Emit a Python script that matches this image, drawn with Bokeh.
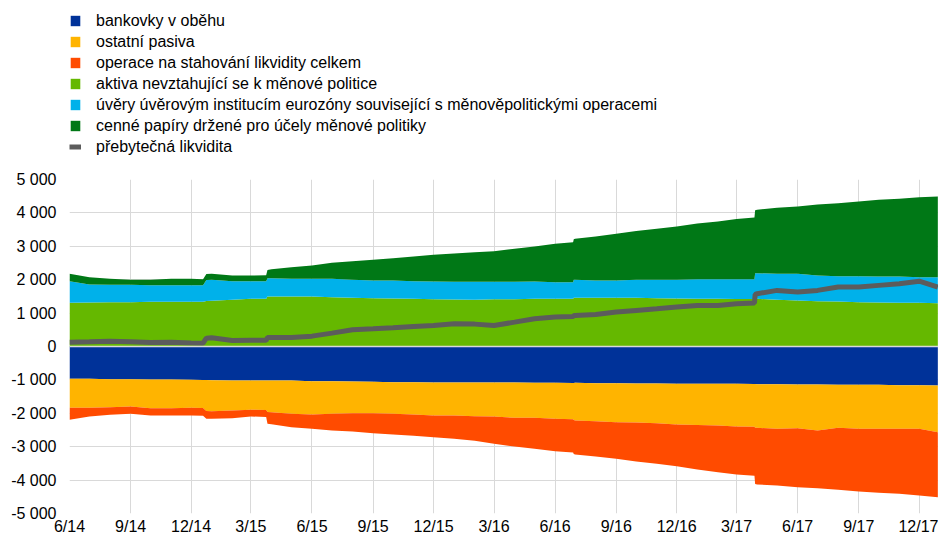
import numpy as np
import pandas as pd
from bokeh.plotting import figure
from bokeh.layouts import column
from bokeh.models import (ColumnDataSource, FixedTicker, CustomJSTickFormatter,
                          Legend, LegendItem, Span, Range1d)
from bokeh.embed import file_html
from bokeh.resources import INLINE

# Observation dates (EUR bn)
dates = [
    "2014-06-01", "2014-07-01", "2014-08-01", "2014-09-01", "2014-10-01", "2014-11-01",
    "2014-12-01", "2014-12-19", "2014-12-24", "2015-01-01", "2015-02-01", "2015-03-01",
    "2015-03-24", "2015-03-26", "2015-04-01", "2015-05-01", "2015-06-01", "2015-07-01",
    "2015-08-01", "2015-09-01", "2015-10-01", "2015-11-01", "2015-12-01", "2016-01-01",
    "2016-02-01", "2016-03-01", "2016-04-01", "2016-05-01", "2016-06-01", "2016-06-28",
    "2016-06-29", "2016-07-01", "2016-08-01", "2016-09-01", "2016-10-01", "2016-11-01",
    "2016-12-01", "2017-01-01", "2017-02-01", "2017-03-01", "2017-03-28", "2017-03-29",
    "2017-04-01", "2017-05-01", "2017-06-01", "2017-07-01", "2017-08-01", "2017-09-01",
    "2017-10-01", "2017-11-01", "2017-12-01", "2017-12-29",
]

# Liabilities (negative side)
bankovky = [
    -967, -967, -978, -978, -988, -988, -998, -1000, -1005, -1008, -1018, -1018,
    -1018, -1018, -1018, -1018, -1038, -1038, -1048, -1058, -1068, -1068, -1078, -1078,
    -1078, -1078, -1078, -1088, -1088, -1090, -1090, -1088, -1098, -1098, -1108, -1108,
    -1118, -1118, -1118, -1118, -1120, -1125, -1128, -1128, -1138, -1138, -1148, -1148,
    -1148, -1158, -1158, -1168,
]
ostatni_pasiva = [
    -868, -868, -838, -818, -858, -858, -838, -840, -925, -928, -898, -878,
    -882, -942, -948, -998, -998, -978, -948, -938, -948, -968, -988, -988,
    -1008, -1018, -1058, -1048, -1078, -1090, -1110, -1128, -1138, -1168, -1167, -1188,
    -1217, -1232, -1247, -1277, -1280, -1305, -1307, -1337, -1307, -1377, -1287, -1317,
    -1317, -1307, -1307, -1397,
]
operace_stahovani = [
    -360, -261, -230, -220, -220, -220, -230, -230, -230, -230, -230, -200,
    -210, -350, -364, -399, -429, -499, -549, -599, -619, -639, -649, -699,
    -738, -818, -858, -928, -968, -990, -1020, -1018, -1057, -1097, -1168, -1217,
    -1248, -1330, -1398, -1437, -1470, -1690, -1697, -1697, -1767, -1727, -1856, -1876,
    -1916, -1946, -1996, -1946,
]

# Assets (positive side)
aktiva_nemenova = [
    1308, 1317, 1327, 1327, 1337, 1337, 1337, 1340, 1360, 1367, 1397, 1427,
    1430, 1500, 1500, 1497, 1497, 1477, 1457, 1447, 1437, 1427, 1417, 1407,
    1397, 1417, 1417, 1427, 1427, 1430, 1457, 1457, 1457, 1457, 1457, 1447,
    1437, 1427, 1427, 1420, 1420, 1430, 1427, 1397, 1377, 1357, 1347, 1327,
    1317, 1307, 1307, 1297,
]
uvery = [
    647, 539, 519, 519, 499, 499, 499, 496, 630, 629, 559, 529,
    520, 540, 546, 529, 529, 549, 539, 529, 539, 529, 529, 529,
    539, 519, 519, 519, 499, 490, 539, 539, 519, 519, 539, 549,
    559, 589, 589, 596, 596, 766, 769, 779, 799, 769, 759, 779,
    779, 789, 769, 779,
]
cenne_papiry = [
    222, 219, 180, 149, 159, 190, 190, 174, 180, 181, 170, 170,
    180, 250, 264, 349, 399, 479, 559, 619, 669, 739, 799, 849,
    889, 919, 989, 1049, 1149, 1200, 1214, 1229, 1319, 1399, 1459, 1529,
    1599, 1669, 1729, 1799, 1844, 1884, 1899, 1979, 2019, 2124, 2184, 2234,
    2294, 2324, 2394, 2414,
]

# Excess liquidity
prebytecna = [
    130, 140, 160, 141, 120, 130, 102, 100, 250, 260, 180, 190,
    185, 270, 270, 270, 310, 400, 500, 530, 560, 600, 630, 680,
    670, 630, 730, 830, 880, 900, 920, 930, 960, 1030, 1080, 1130,
    1180, 1230, 1230, 1280, 1300, 1560, 1580, 1680, 1630, 1680, 1780, 1780,
    1830, 1880, 1955, 1780,
]

series_names = [
    "bankovky v oběhu",
    "ostatní pasiva",
    "operace na stahování likvidity celkem",
    "aktiva nevztahující se k měnové politice",
    "úvěry úvěrovým institucím eurozóny související s měnověpolitickými operacemi",
    "cenné papíry držené pro účely měnové politiky",
    "přebytečná likvidita",
]
colors = ["#003299", "#FFB400", "#FF4B00", "#65B800", "#00B1EA", "#007816", "#5C5C5C"]

x_tick_dates = ["2014-06-01", "2014-09-01", "2014-12-01", "2015-03-01", "2015-06-01",
                "2015-09-01", "2015-12-01", "2016-03-01", "2016-06-01", "2016-09-01",
                "2016-12-01", "2017-03-01", "2017-06-01", "2017-09-01", "2017-12-01"]
x_tick_labels = ["6/14", "9/14", "12/14", "3/15", "6/15", "9/15", "12/15", "3/16",
                 "6/16", "9/16", "12/16", "3/17", "6/17", "9/17", "12/17"]
y_ticks = [-5000, -4000, -3000, -2000, -1000, 0, 1000, 2000, 3000, 4000, 5000]
y_tick_labels = ["-5 000", "-4 000", "-3 000", "-2 000", "-1 000", "0",
                 "1 000", "2 000", "3 000", "4 000", "5 000"]

x = pd.to_datetime(dates)

# Build stacked band boundaries
neg = np.cumsum(np.array([bankovky, ostatni_pasiva, operace_stahovani], float), axis=0)
pos = np.cumsum(np.array([aktiva_nemenova, uvery, cenne_papiry], float), axis=0)
zero = np.zeros(len(dates))
bands = [
    (zero, neg[0]), (neg[0], neg[1]), (neg[1], neg[2]),
    (zero, pos[0]), (pos[0], pos[1]), (pos[1], pos[2]),
]

src = ColumnDataSource(dict(x=x, line=prebytecna,
                            **{f"lo{i}": b[0] for i, b in enumerate(bands)},
                            **{f"hi{i}": b[1] for i, b in enumerate(bands)}))

# ---- main chart ----
p = figure(width=938, height=369, x_axis_type="datetime",
           output_backend="svg", toolbar_location=None,
           x_range=Range1d(pd.Timestamp("2014-06-01"), pd.Timestamp("2017-12-30")),
           y_range=Range1d(-5000, 5000),
           min_border_left=69, min_border_right=0, min_border_top=10,
           min_border_bottom=25)
p.outline_line_color = None
p.background_fill_color = "white"

for i in range(6):
    p.varea(x="x", y1=f"lo{i}", y2=f"hi{i}", source=src,
            fill_color=colors[i], fill_alpha=1.0)

zero_line = Span(location=0, dimension="width", line_color="#d9d9d9", line_width=1.5)
p.add_layout(zero_line)

p.line(x="x", y="line", source=src, line_color=colors[6], line_width=5)

# Axes
x_ticks_ms = [pd.Timestamp(d).value / 1e6 for d in x_tick_dates]
p.xaxis.ticker = FixedTicker(ticks=x_ticks_ms)
p.xaxis.formatter = CustomJSTickFormatter(
    args=dict(tick_vals=x_ticks_ms, tick_text=x_tick_labels),
    code="""
        for (let i = 0; i < tick_vals.length; i++) {
            if (Math.abs(tick_vals[i] - tick) < 1) { return tick_text[i]; }
        }
        return "";
    """)
p.yaxis.ticker = FixedTicker(ticks=y_ticks)
p.yaxis.formatter = CustomJSTickFormatter(
    args=dict(tick_vals=y_ticks, tick_text=y_tick_labels),
    code="""
        for (let i = 0; i < tick_vals.length; i++) {
            if (Math.abs(tick_vals[i] - tick) < 0.5) { return tick_text[i]; }
        }
        return "";
    """)

for ax in (p.xaxis[0], p.yaxis[0]):
    ax.axis_line_color = None
    ax.major_tick_line_color = None
    ax.minor_tick_line_color = None
    ax.major_tick_out = 0
    ax.major_tick_in = 0
    ax.major_label_text_font = "Liberation Sans"
    ax.major_label_text_font_size = "16px"
    ax.major_label_text_color = "#000000"
p.yaxis.major_label_standoff = 13
p.xaxis.major_label_standoff = 4

p.xgrid.grid_line_color = "#d9d9d9"
p.ygrid.grid_line_color = "#d9d9d9"
p.xgrid.grid_line_width = 1
p.ygrid.grid_line_width = 1

# ---- legend strip above the chart ----
lg = figure(width=938, height=169, output_backend="svg", toolbar_location=None,
            x_range=Range1d(0, 1), y_range=Range1d(0, 1),
            min_border=0, x_axis_location=None, y_axis_location=None)
lg.outline_line_color = None
lg.xgrid.visible = False
lg.ygrid.visible = False

# zero-size key glyphs: they only supply the legend swatches
key_src = ColumnDataSource(dict(x=[0.0], y1=[0.0], y2=[0.0]))
keys = []
for i in range(6):
    keys.append(lg.varea(x="x", y1="y1", y2="y2", source=key_src,
                         fill_color=colors[i], fill_alpha=1.0))
keys.append(lg.line(x="x", y="y1", source=key_src, line_color=colors[6], line_width=5))

items = [LegendItem(label=series_names[i], renderers=[keys[i]]) for i in range(7)]
legend = Legend(items=items, location=(0, 12), orientation="vertical",
                label_text_font="Liberation Sans", label_text_font_size="16px",
                label_text_color="#000000",
                glyph_width=12, glyph_height=13, label_height=21, label_standoff=15,
                spacing=0, padding=0, margin=0,
                border_line_color=None, background_fill_alpha=0)
lg.add_layout(legend, "center")

layout = column(lg, p, spacing=0)
open("out.html", "w").write(file_html(layout, INLINE))
